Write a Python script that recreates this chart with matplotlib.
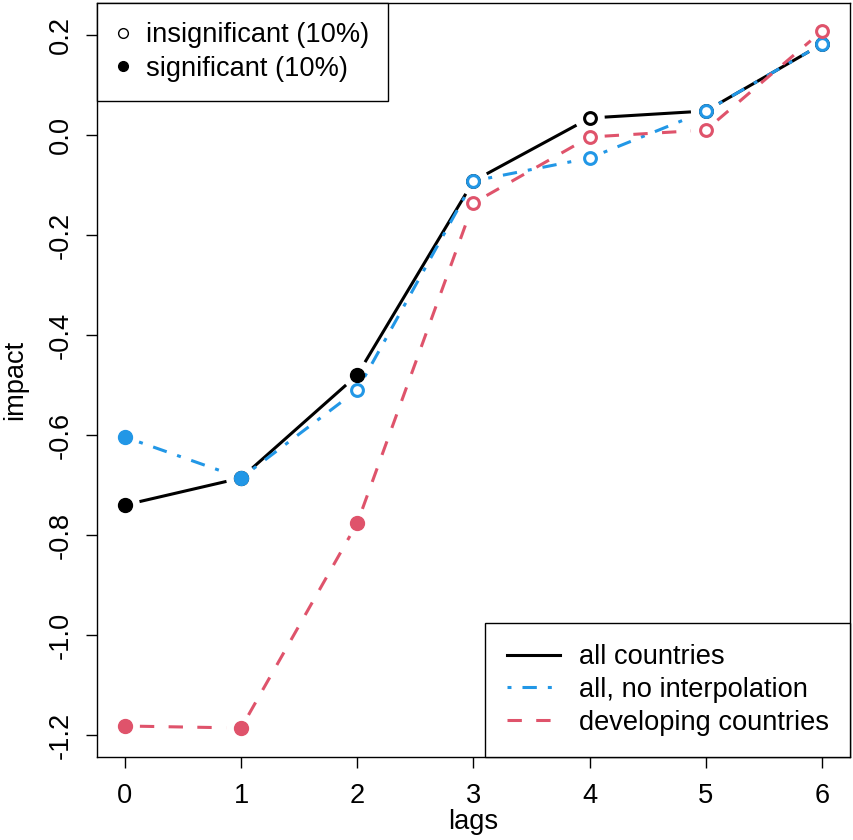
import numpy as np
import matplotlib.pyplot as plt
from matplotlib.lines import Line2D

plt.rcParams["font.family"] = ["Liberation Sans", "DejaVu Sans"]

lags = [0, 1, 2, 3, 4, 5, 6]
all_countries = [-0.740, -0.686, -0.480, -0.092, 0.034, 0.048, 0.182]
all_countries_sig = [True, True, True, False, False, False, False]
no_interp = [-0.604, -0.686, -0.510, -0.092, -0.046, 0.048, 0.182]
no_interp_sig = [True, True, False, False, False, False, False]
developing = [-1.182, -1.186, -0.776, -0.136, -0.004, 0.010, 0.208]
developing_sig = [True, True, True, False, False, False, False]

series_labels = ["all countries", "all, no interpolation", "developing countries"]
point_labels = ["insignificant (10%)", "significant (10%)"]
yticks = [-1.2, -1.0, -0.8, -0.6, -0.4, -0.2, 0.0, 0.2]

BLUE = "#2297E6"
RED = "#DF536B"
FS = 19.6

fig = plt.figure(figsize=(8.54, 8.40), dpi=100)
ax = fig.add_axes([97 / 854, 83 / 840, 753 / 854, 754 / 840])
ax.set_xlim(-0.24, 6.24)
ax.set_ylim(-1.244, 0.264)

GAP = 15  # pixels left blank around each point, like R type="b"


def draw_series(y, sig, color, dashes):
    pts = ax.transData.transform(np.column_stack([lags, y]))
    inv = ax.transData.inverted()
    for i in range(len(pts) - 1):
        p0, p1 = pts[i], pts[i + 1]
        d = p1 - p0
        n = np.hypot(*d)
        if n <= 2 * GAP:
            continue
        u = d / n
        seg = inv.transform(np.array([p0 + u * GAP, p1 - u * GAP]))
        ln, = ax.plot(seg[:, 0], seg[:, 1], color=color, lw=2.2,
                      solid_capstyle="butt", dash_capstyle="butt")
        if dashes:
            ln.set_dashes(dashes)
    for x, v, s in zip(lags, y, sig):
        if s:
            ax.plot(x, v, "o", color=color, ms=10, mec=color, zorder=3)
        else:
            ax.plot(x, v, "o", mfc="white", mec=color, ms=8.5, mew=2.2, zorder=3)


draw_series(all_countries, all_countries_sig, "black", None)
draw_series(no_interp, no_interp_sig, BLUE, (1.3, 3.6, 4.7, 3.6))
draw_series(developing, developing_sig, RED, (4.7, 4.7))

ax.set_xticks(lags)
ax.set_yticks(yticks)
ax.set_yticklabels([f"{t:.1f}" for t in yticks], rotation=90, va="center")
ax.tick_params(labelsize=FS, length=8, width=1, pad=9)
ax.tick_params(axis="x", pad=11)
ax.set_xlabel("lags", fontsize=FS, labelpad=0)
ax.set_ylabel("impact", fontsize=FS, labelpad=14)
for s in ax.spines.values():
    s.set_linewidth(1)

h1 = [Line2D([], [], marker="o", ls="none", mfc="none", mec="black", ms=7, mew=1),
      Line2D([], [], marker="o", ls="none", color="black", ms=7)]
leg1 = ax.legend(h1, point_labels, loc="upper left", fontsize=FS, borderaxespad=0,
                 fancybox=False, edgecolor="black", framealpha=1, handlelength=0.5,
                 handletextpad=0.6, borderpad=0.7, labelspacing=0.28)
leg1.get_frame().set_linewidth(1)
ax.add_artist(leg1)

h2 = [Line2D([], [], color="black", lw=2.2),
      Line2D([], [], color=BLUE, lw=2.2, dashes=(1.3, 3.6, 4.7, 3.6)),
      Line2D([], [], color=RED, lw=2.2, dashes=(4.7, 4.7))]
leg2 = ax.legend(h2, series_labels, loc="lower right", fontsize=FS, borderaxespad=0,
                 fancybox=False, edgecolor="black", framealpha=1, handlelength=1.95,
                 handletextpad=0.7, borderpad=0.78, labelspacing=0.25)
leg2.get_frame().set_linewidth(1)

fig.savefig("out.png", dpi=100)
